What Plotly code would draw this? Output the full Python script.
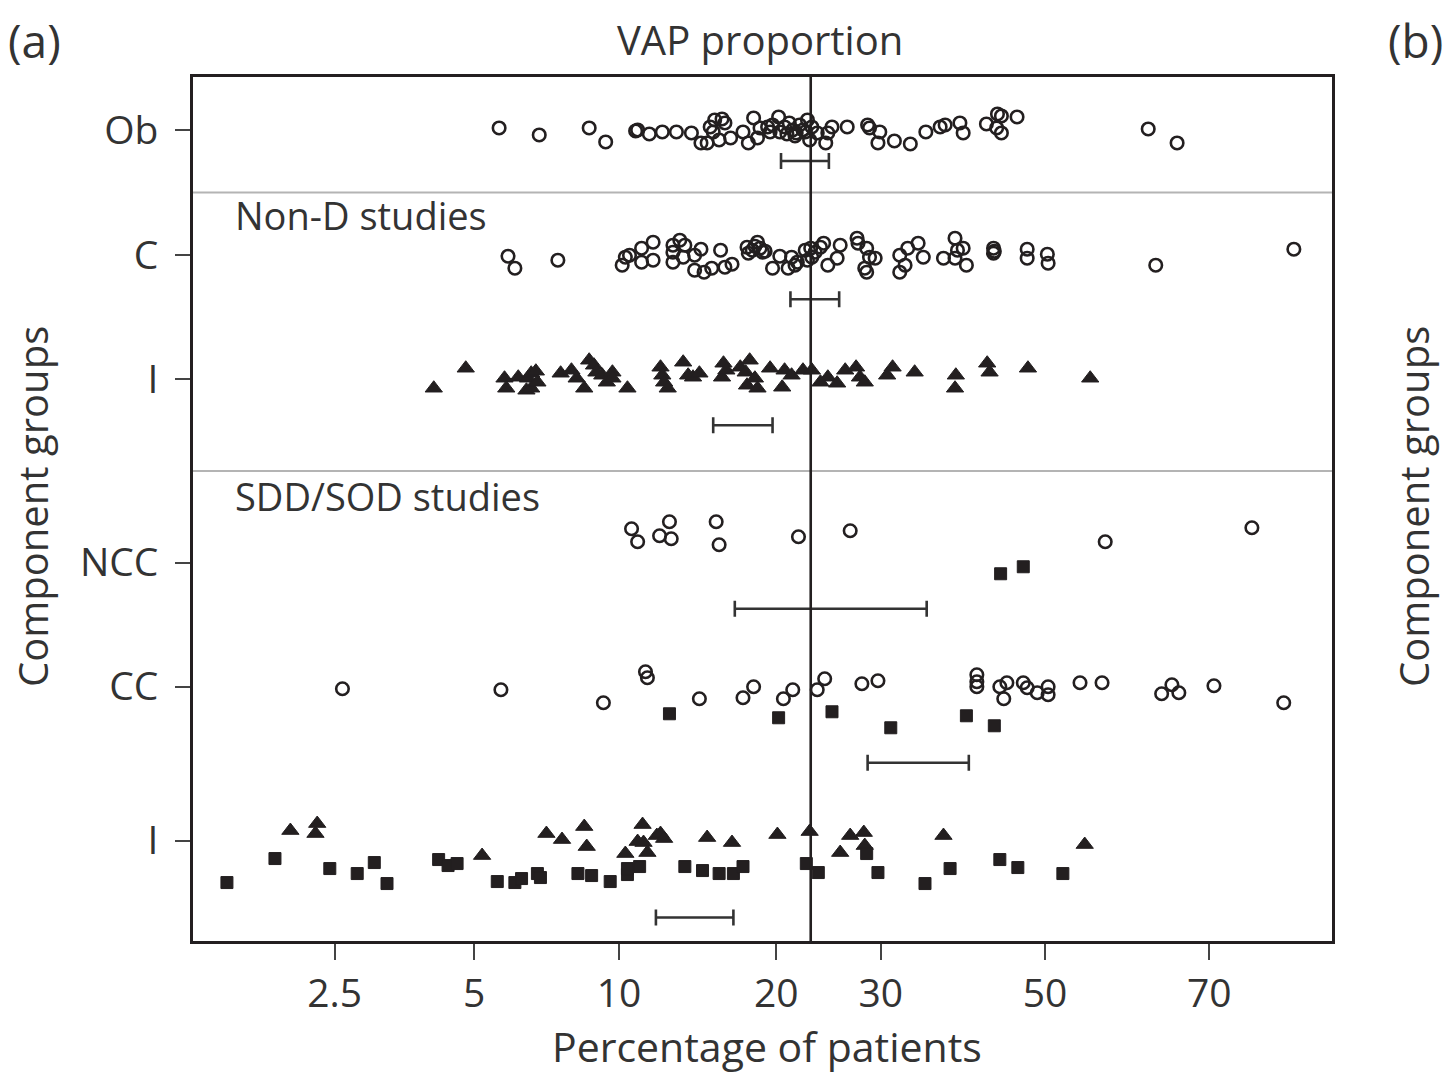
import numpy as np
import plotly.graph_objects as go

# ---------------- data (percent of patients) ----------------
row_labels = ["Ob", "C", "I", "NCC", "CC", "I"]
tick_pct = [2.5, 5, 10, 20, 30, 50, 70]
tick_text = ["2.5", "5", "10", "20", "30", "50", "70"]
pooled_mean = 23.0

# Observational (Ob) - open circles
ob_pct = [5.65, 6.86, 8.7, 9.4, 10.8, 10.9, 11.5, 12.2, 13.0, 13.9, 14.5, 14.9, 15.1, 15.4, 15.9,
          16.1, 15.3, 15.7, 16.5, 17.4, 17.8, 18.2, 19.3, 19.5, 19.7, 20.2, 20.3, 20.7, 21.1, 21.4,
          21.7, 22.0, 22.3, 22.7, 23.1, 22.9, 24.4, 24.6, 25.0, 26.5, 28.6, 28.8, 29.9, 29.7, 31.5,
          33.3, 35.1, 36.8, 37.4, 39.2, 39.6, 42.5, 43.9, 44.4, 43.8, 44.4, 46.4, 63.0, 66.4,
          18.7, 20.9, 21.6, 22.5, 23.6, 18.5]
ob_jit = [-2, 5, -2, 12, 1, 0, 4, 2, 2, 3, 13, 13, -3, -10, -11,
          -7, 2, 10, 8, 2, 13, -12, -3, 2, -5, -13, 2, -3, -7, 0,
          3, -5, 0, -10, -3, 10, 13, 3, -3, -3, -5, -2, 2, 13, 11,
          14, 2, -3, -5, -7, 3, -6, -16, -14, -2, 3, -13, -1, 13,
          -2, 4, 6, 2, 3, 8]

# Non-D controls (C) - open circles
c_pct = [5.9, 6.1, 7.5, 10.15, 10.3, 10.5, 11.1, 11.1, 11.7, 11.7, 12.8, 13.2, 13.5, 12.8, 13.4,
         12.8, 14.1, 14.5, 14.1, 14.7, 15.2, 15.8, 16.1, 16.6, 17.7, 18.1, 18.5, 18.7, 19.1, 17.8,
         19.7, 20.3, 21.0, 21.3, 21.6, 21.8, 22.5, 23.0, 23.4, 23.9, 24.2, 22.7, 23.1, 24.6, 25.5,
         25.8, 27.5, 27.6, 28.5, 28.8, 29.4, 28.3, 28.5, 32.1, 32.1, 32.7, 33.0, 34.2, 34.8, 37.2,
         38.6, 38.9, 39.6, 38.6, 40.0, 43.4, 43.4, 43.5, 47.7, 47.7, 50.3, 50.4, 63.9, 78.3,
         18.3, 18.9]
c_jit = [1, 13, 5, 10, 2, 0, -7, 7, -13, 5, -10, -15, -10, -3, 2,
         7, 0, -6, 15, 17, 13, -5, 12, 9, -8, -5, -13, -7, -4, -2,
         13, 1, 13, 2, 10, 7, -5, -7, -3, -8, -12, 5, 2, 10, 3,
         -10, -17, -12, -7, 2, 3, 13, 17, 0, 17, 10, -7, -12, 2, 3,
         -17, -5, -7, 3, 10, -7, -2, -4, -6, 3, -1, 8, 10, -6,
         -9, -3]

# Non-D interventions (I) - filled triangles
i_pct = [4.1, 4.8, 5.8, 5.85, 6.2, 6.5, 6.6, 6.75, 6.45, 6.6, 6.8, 7.6, 8.0, 8.2, 8.5,
         8.7, 8.9, 9.0, 9.25, 9.45, 9.7, 9.7, 10.4, 12.1, 12.2, 12.3, 12.5, 13.4, 13.7, 14.0,
         14.4, 16.0, 15.9, 16.2, 17.2, 17.6, 17.9, 17.7, 18.3, 18.5, 19.5, 20.5, 20.7, 21.3, 22.3,
         23.1, 23.9, 24.6, 25.5, 26.3, 27.4, 27.8, 28.3, 30.7, 31.3, 33.8, 38.7, 38.6, 42.6, 42.9,
         47.8, 55.8]
i_jit = [9, -11, -1, 9, -2, -1, -6, -8, 11, 9, 3, -6, -9, -1, 9,
         -19, -14, -7, -4, 3, -7, -1, 9, -12, -4, 3, 9, -17, -4, -2,
         -6, -16, -2, -9, -12, -7, -19, 6, -1, 9, -11, 8, -9, -4, -9,
         -9, 3, -2, 4, -9, -12, -2, 3, -4, -12, -7, -4, 9, -16, -7,
         -11, -1]

# SDD/SOD non-concurrent controls (NCC)
ncc_circ_pct = [10.6, 10.9, 12.05, 12.6, 12.7, 15.5, 15.7, 21.9, 26.8, 57.7, 74.4]
ncc_circ_jit = [-34, -21, -27, -41, -24, -41, -18, -26, -32, -21, -35]
ncc_sq_pct = [44.3, 47.2]
ncc_sq_jit = [11, 4]

# SDD/SOD concurrent controls (CC)
cc_circ_pct = [2.6, 5.7, 9.3, 11.3, 11.4, 14.4, 17.4, 18.2, 20.6, 21.4, 23.6, 24.3, 28.0, 29.7,
               41.3, 41.3, 41.3, 44.2, 45.1, 44.7, 47.2, 47.7, 49.0, 50.4, 50.4, 54.5, 57.3,
               64.6, 65.8, 66.6, 70.5, 77.4]
cc_circ_jit = [2, 3, 16, -15, -9, 12, 11, 0, 12, 3, 3, -8, -3, -6,
               -12, -5, 0, 0, -4, 12, -4, 1, 6, 0, 8, -4, -4,
               7, -2, 6, -1, 16]
cc_sq_pct = [12.6, 20.2, 25.0, 31.1, 40.0, 43.5]
cc_sq_jit = [27, 31, 25, 41, 29, 39]

# SDD/SOD interventions (I)
isd_tri_pct = [2.0, 2.29, 2.27, 5.2, 7.1, 7.65, 8.5, 8.6, 10.3, 11.15, 10.9, 11.2, 11.4, 11.9,
               12.1, 12.3, 14.9, 16.6, 20.1, 22.9, 25.8, 26.8, 28.2, 28.3, 37.2, 55.1]
isd_tri_jit = [-10, -17, -7, 15, -7, -1, -14, 6, 13, -16, 1, 2, 12, -5,
               -7, -2, -3, 2, -6, -9, 12, -5, -8, 5, -5, 4]
isd_sq_pct = [1.45, 1.85, 2.44, 2.8, 3.05, 3.25, 4.2, 4.4, 4.6, 5.6, 6.1, 6.3, 6.8, 6.9,
              8.25, 8.8, 9.6, 10.4, 10.4, 11.0, 13.5, 14.6, 15.7, 16.7, 17.4, 22.6, 23.7,
              28.5, 29.7, 35.0, 38.0, 44.2, 46.5, 52.3]
isd_sq_jit = [42, 18, 28, 33, 22, 43, 19, 25, 23, 41, 42, 38, 33, 37,
              33, 35, 41, 34, 28, 26, 26, 30, 33, 33, 26, 23, 32,
              13, 32, 43, 28, 19, 27, 33]

# 95% intervals of each group (percent)
ci_low = [20.4, 21.2, 15.3, 16.8, 28.6, 11.85]
ci_high = [24.7, 25.7, 19.7, 35.2, 40.3, 16.7]

# ---------------- layout constants ----------------
ROW_POS = [0.0, 1.01, 2.01, 3.49, 4.49, 5.73]
JIT_UNIT = 1.0 / 124.0          # jitter values are in reference pixels
CI_OFFSET = [31, 44, 46, 46, 76, 77]
INK = "#231f20"
TXT = "#333333"
FONT = "Open Sans"


def logit(p):
    p = np.asarray(p, dtype=float) / 100.0
    return np.log(p / (1.0 - p))


def ypos(row, jit):
    return ROW_POS[row] + np.asarray(jit, dtype=float) * JIT_UNIT


circle = dict(symbol="circle-open", size=12.5, color=INK, line=dict(width=2.6, color=INK))
triangle = dict(symbol="triangle-up", size=15, color=INK, line=dict(width=1, color=INK))
square = dict(symbol="square", size=12, color=INK, line=dict(width=1, color=INK))

fig = go.Figure()

series = [
    (ob_pct, ob_jit, 0, circle),
    (c_pct, c_jit, 1, circle),
    (i_pct, i_jit, 2, triangle),
    (ncc_circ_pct, ncc_circ_jit, 3, circle),
    (ncc_sq_pct, ncc_sq_jit, 3, square),
    (cc_circ_pct, cc_circ_jit, 4, circle),
    (cc_sq_pct, cc_sq_jit, 4, square),
    (isd_tri_pct, isd_tri_jit, 5, triangle),
    (isd_sq_pct, isd_sq_jit, 5, square),
]
for pct, jit, row, mk in series:
    fig.add_trace(go.Scatter(x=logit(pct), y=ypos(row, jit), mode="markers",
                             marker=mk, showlegend=False, hoverinfo="x"))

# interval bars
lo = logit(ci_low)
hi = logit(ci_high)
mid = (lo + hi) / 2.0
half = (hi - lo) / 2.0
ci_y = [ROW_POS[k] + CI_OFFSET[k] * JIT_UNIT for k in range(6)]
fig.add_trace(go.Scatter(x=mid, y=ci_y, mode="markers", marker=dict(size=1, color="rgba(0,0,0,0)"),
                         error_x=dict(type="data", array=half, symmetric=True, color="#333333",
                                      thickness=2.6, width=8),
                         showlegend=False, hoverinfo="skip"))

# separators and pooled mean line
for yv in [(ROW_POS[0] + ROW_POS[1]) / 2, (ROW_POS[2] + ROW_POS[3]) / 2]:
    fig.add_shape(type="line", xref="paper", x0=0, x1=1, yref="y", y0=yv, y1=yv,
                  line=dict(color="#b4b4b4", width=2))
mx = float(logit([pooled_mean])[0])
fig.add_shape(type="line", xref="x", x0=mx, x1=mx, yref="paper", y0=0, y1=1,
              line=dict(color=INK, width=2.6))

fig.update_xaxes(range=[-4.394, 1.480], tickvals=logit(tick_pct), ticktext=tick_text,
                 showline=True, linecolor=INK, linewidth=2.5, mirror=True,
                 ticks="outside", ticklen=16, tickwidth=1.5, tickcolor="#444",
                 tickfont=dict(family=FONT, size=39, color=TXT),
                 showgrid=False, zeroline=False)
fig.update_yaxes(range=[6.54, -0.427], tickvals=ROW_POS, ticktext=row_labels,
                 showline=True, linecolor=INK, linewidth=2.5, mirror=True,
                 ticks="outside", ticklen=15, tickwidth=1.5, tickcolor="#444",
                 ticklabelstandoff=9,
                 tickfont=dict(family=FONT, size=39, color=TXT),
                 showgrid=False, zeroline=False)

W, H = 1456, 1076
L, R, T, B = 193, 124, 77, 135
pw, ph = W - L - R, H - T - B


def px(xp):
    return (xp - L) / pw


def py(yp):
    return (H - B - yp) / ph


def font(sz):
    return dict(family=FONT, size=sz, color=TXT)


ann = [
    dict(text="VAP proportion", x=px(760), y=py(40), xanchor="center", yanchor="middle", font=font(40)),
    dict(text="(a)", x=px(6), y=py(40), xanchor="left", yanchor="middle", font=font(46)),
    dict(text="(b)", x=px(1386), y=py(40), xanchor="left", yanchor="middle", font=font(46)),
    dict(text="Percentage of patients", x=px(767), y=py(1046), xanchor="center", yanchor="middle",
         font=font(41)),
    dict(text="Component groups", x=px(32), y=py(507), xanchor="center", yanchor="middle",
         textangle=-90, font=font(40)),
    dict(text="Component groups", x=px(1413), y=py(507), xanchor="center", yanchor="middle",
         textangle=-90, font=font(40)),
    dict(text="Non-D studies", x=px(233), y=py(215), xanchor="left", yanchor="middle", font=font(38)),
    dict(text="SDD/SOD studies", x=px(233), y=py(496), xanchor="left", yanchor="middle", font=font(38)),
]
for a in ann:
    a.update(xref="paper", yref="paper", showarrow=False)

fig.update_layout(width=W, height=H, margin=dict(l=L, r=R, t=T, b=B, autoexpand=False),
                  plot_bgcolor="white", paper_bgcolor="white", annotations=ann)

fig.write_html("out.html")
